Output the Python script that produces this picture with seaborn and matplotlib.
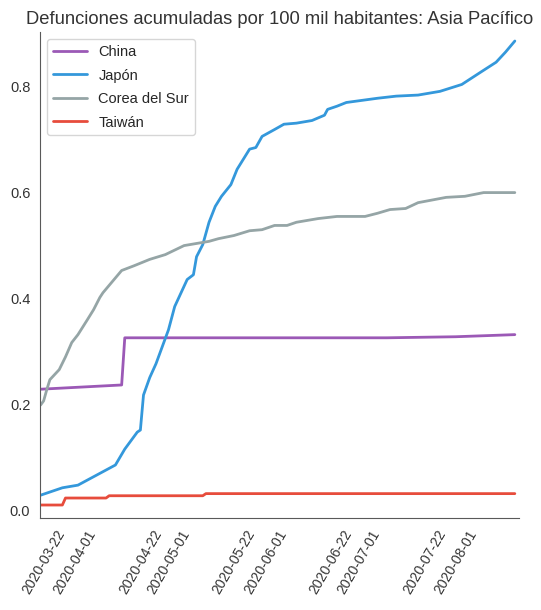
# Defunciones acumuladas por 100 mil habitantes - Asia Pacífico
import pandas as pd
import matplotlib.pyplot as plt
import matplotlib.dates as mdates
import seaborn as sns

# Valores
china_fechas = ['2020-03-21', '2020-04-16', '2020-04-17', '2020-07-10', '2020-08-01', '2020-08-20']
china_valores = [0.228, 0.236, 0.325, 0.325, 0.327, 0.331]

japon_fechas = ['2020-03-21', '2020-03-28', '2020-04-02', '2020-04-08', '2020-04-14', '2020-04-17',
                '2020-04-21', '2020-04-22', '2020-04-23', '2020-04-25', '2020-04-27', '2020-04-29',
                '2020-05-01', '2020-05-03', '2020-05-07', '2020-05-09', '2020-05-10', '2020-05-12',
                '2020-05-14', '2020-05-16', '2020-05-18', '2020-05-21', '2020-05-23', '2020-05-27',
                '2020-05-29', '2020-05-31', '2020-06-04', '2020-06-07', '2020-06-11', '2020-06-16',
                '2020-06-20', '2020-06-21', '2020-06-24', '2020-06-27', '2020-07-02', '2020-07-07',
                '2020-07-13', '2020-07-20', '2020-07-27', '2020-08-03', '2020-08-09', '2020-08-14',
                '2020-08-17', '2020-08-20']
japon_valores = [0.028, 0.042, 0.047, 0.066, 0.085, 0.115,
                 0.147, 0.151, 0.217, 0.250, 0.276, 0.308,
                 0.340, 0.384, 0.435, 0.444, 0.478, 0.501,
                 0.543, 0.573, 0.592, 0.614, 0.643, 0.681,
                 0.684, 0.705, 0.718, 0.728, 0.730, 0.735,
                 0.745, 0.756, 0.762, 0.769, 0.773, 0.777,
                 0.781, 0.783, 0.790, 0.803, 0.826, 0.845,
                 0.864, 0.885]

corea_fechas = ['2020-03-21', '2020-03-22', '2020-03-23', '2020-03-24', '2020-03-27', '2020-03-29',
                '2020-03-31', '2020-04-02', '2020-04-05', '2020-04-07', '2020-04-09', '2020-04-10',
                '2020-04-13', '2020-04-16', '2020-04-20', '2020-04-25', '2020-04-30', '2020-05-06',
                '2020-05-10', '2020-05-14', '2020-05-17', '2020-05-22', '2020-05-27', '2020-05-31',
                '2020-06-04', '2020-06-08', '2020-06-11', '2020-06-18', '2020-06-24', '2020-07-03',
                '2020-07-07', '2020-07-11', '2020-07-16', '2020-07-20', '2020-07-29', '2020-08-04',
                '2020-08-10', '2020-08-20']
corea_valores = [0.198, 0.206, 0.227, 0.246, 0.265, 0.289,
                 0.316, 0.331, 0.359, 0.378, 0.401, 0.410,
                 0.431, 0.452, 0.461, 0.473, 0.482, 0.499,
                 0.503, 0.507, 0.512, 0.518, 0.527, 0.529,
                 0.537, 0.537, 0.543, 0.550, 0.554, 0.554,
                 0.560, 0.567, 0.569, 0.580, 0.590, 0.592,
                 0.599, 0.599]

taiwan_fechas = ['2020-03-21', '2020-03-28', '2020-03-29', '2020-04-11', '2020-04-12',
                 '2020-05-12', '2020-05-13', '2020-08-20']
taiwan_valores = [0.0095, 0.0095, 0.0227, 0.0227, 0.027, 0.027, 0.031, 0.031]

paises = ['China', 'Japón', 'Corea del Sur', 'Taiwán']
colores = ['#9b59b6', '#3498db', '#95a5a6', '#e74c3c']
etiquetas_x = ['2020-03-22', '2020-04-01', '2020-04-22', '2020-05-01', '2020-05-22',
               '2020-06-01', '2020-06-22', '2020-07-01', '2020-07-22', '2020-08-01']

# Armar tabla larga para seaborn
partes = []
for pais, fechas, valores in zip(paises,
                                 [china_fechas, japon_fechas, corea_fechas, taiwan_fechas],
                                 [china_valores, japon_valores, corea_valores, taiwan_valores]):
    partes.append(pd.DataFrame({'fecha': pd.to_datetime(fechas), 'valor': valores, 'pais': pais}))
df = pd.concat(partes, ignore_index=True)

sns.set_style('white')
plt.rcParams['font.family'] = ['Liberation Sans', 'DejaVu Sans']

fig = plt.figure(figsize=(5.41, 6.10), dpi=100)
ax = fig.add_axes([40 / 541, 92 / 610, 479 / 541, 486 / 610])

sns.lineplot(data=df, x='fecha', y='valor', hue='pais', hue_order=paises,
             palette=dict(zip(paises, colores)), linewidth=2, ax=ax)

ax.set_xlim(pd.Timestamp('2020-03-20 20:00'), pd.Timestamp('2020-08-21 08:00'))
ax.set_ylim(-0.015, 0.902)
ax.set_xticks(pd.to_datetime(etiquetas_x))
ax.xaxis.set_major_formatter(mdates.DateFormatter('%Y-%m-%d'))
plt.xticks(rotation=60, fontsize=10, color='0.2')
plt.yticks(fontsize=10.5, color='0.2')
ax.set_xlabel('')
ax.set_ylabel('')
ax.set_title('Defunciones acumuladas por 100 mil habitantes: Asia Pacífico',
             fontsize=13.2, color='0.2')

handles, labels = ax.get_legend_handles_labels()
ax.legend(handles, labels, loc='upper left', fontsize=10.5, labelspacing=0.65,
          handlelength=2.3, edgecolor='0.8')

sns.despine()
for lado in ['left', 'bottom']:
    ax.spines[lado].set_color('0.35')
plt.savefig('out.png', dpi=100)
